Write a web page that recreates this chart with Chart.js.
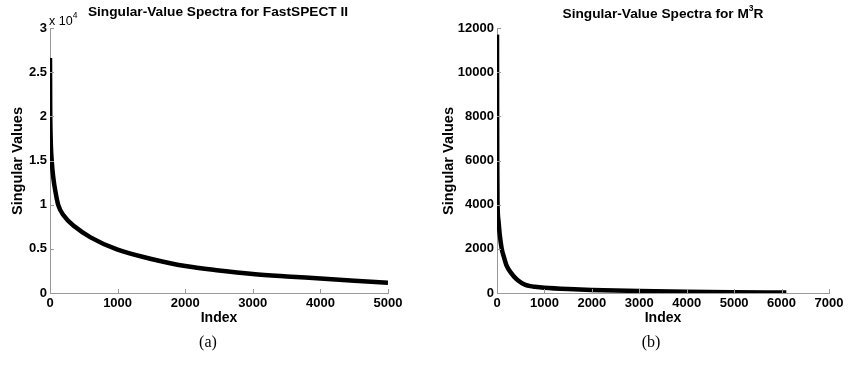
<!DOCTYPE html>
<html>
<head>
<meta charset="utf-8">
<script src="https://cdn.jsdelivr.net/npm/chart.js@4"></script>
<style>
  body { margin: 0; background: #fff; }
  #fig { position: relative; width: 849px; height: 367px; background: #fff; overflow: hidden; }
  canvas { position: absolute; top: 0; }
  .t { position: absolute; font-family: "Liberation Sans", Arial, sans-serif; color: #000; white-space: nowrap; }
  .b { font-weight: bold; }
  .cap { position: absolute; font-family: "Liberation Serif", serif; font-size: 16px; white-space: nowrap; }
</style>
</head>
<body>
<div id="fig">
  <canvas id="ca" width="424" height="367" style="left:0"></canvas>
  <canvas id="cb" width="425" height="367" style="left:424px"></canvas>

  <div class="t b" style="left:218px;top:4px;font-size:13.7px;transform:translateX(-50%)">Singular-Value Spectra for FastSPECT II</div>
  <div class="t" style="left:49px;top:12px;font-size:12.5px">x 10<sup style="font-size:8.5px;position:relative;top:-2px">4</sup></div>
  <div class="t b" style="left:17px;top:161px;font-size:14.5px;transform:translate(-50%,-50%) rotate(-90deg)">Singular Values</div>
  <div class="t b" style="left:219px;top:309px;font-size:14px;transform:translateX(-50%)">Index</div>
  <div class="cap" style="left:208px;top:333px;transform:translateX(-50%)">(a)</div>

  <div class="t b" style="left:663px;top:4px;font-size:13.7px;transform:translateX(-50%)">Singular-Value Spectra for M<sup style="font-size:8.5px;position:relative;top:-1px">3</sup>R</div>
  <div class="t b" style="left:448px;top:161px;font-size:14.5px;transform:translate(-50%,-50%) rotate(-90deg)">Singular Values</div>
  <div class="t b" style="left:663px;top:309px;font-size:14px;transform:translateX(-50%)">Index</div>
  <div class="cap" style="left:651px;top:333px;transform:translateX(-50%)">(b)</div>
</div>
<script>
// FastSPECT II spectrum (a)
const indexA = [0, 3, 10, 25, 50, 80, 120, 200, 370, 600, 1000, 1500, 2000, 2500, 3000, 3500, 4000, 4500, 5000];
const valuesA = [26600, 21000, 17500, 15000, 13000, 11500, 10000, 8800, 7500, 6300, 4900, 3850, 3050, 2550, 2150, 1880, 1650, 1400, 1150];

// M3R spectrum (b)
const indexB = [0, 2, 5, 10, 30, 60, 100, 150, 200, 300, 400, 500, 600, 700, 800, 1000, 1500, 2000, 3000, 4000, 5000, 6100];
const valuesB = [11700, 8500, 6000, 4200, 3300, 2600, 2000, 1600, 1250, 900, 650, 480, 370, 310, 280, 240, 180, 140, 90, 55, 35, 20];

const xTicksA = [0, 1000, 2000, 3000, 4000, 5000];
const yTicksA = [0, 5000, 10000, 15000, 20000, 25000, 30000];
const xTicksB = [0, 1000, 2000, 3000, 4000, 5000, 6000, 7000];
const yTicksB = [0, 2000, 4000, 6000, 8000, 10000, 12000];

const tickFont = { family: "Liberation Sans, Arial, sans-serif", size: 13, weight: 'bold' };

// MATLAB style ticks pointing into the plot
const inwardTicks = {
  id: 'inwardTicks',
  afterDraw(chart) {
    const ctx = chart.ctx, a = chart.chartArea;
    const xs = chart.scales.x, ys = chart.scales.y;
    ctx.save();
    ctx.strokeStyle = '#999';
    ctx.lineWidth = 1;
    ctx.beginPath();
    xs.ticks.forEach(t => {
      const px = Math.round(xs.getPixelForValue(t.value)) + 0.5;
      ctx.moveTo(px, a.bottom);
      ctx.lineTo(px, a.bottom - 4);
    });
    ys.ticks.forEach(t => {
      const py = Math.round(ys.getPixelForValue(t.value)) + 0.5;
      ctx.moveTo(a.left, py);
      ctx.lineTo(a.left + 4, py);
    });
    ctx.stroke();
    ctx.restore();
  }
};

function makeChart(id, xs, ys, xTicks, yTicks, yFmt, yWidth, padRight) {
  const pts = xs.map((x, i) => ({ x: x, y: ys[i] }));
  return new Chart(document.getElementById(id), {
    type: 'scatter',
    data: {
      datasets: [{
        data: pts,
        showLine: true,
        borderColor: '#000',
        borderWidth: 4.5,
        pointRadius: 0,
        cubicInterpolationMode: 'monotone',
        fill: false
      }]
    },
    options: {
      responsive: false,
      animation: false,
      layout: { padding: { left: 0, top: 28, right: padRight, bottom: 0 } },
      plugins: { legend: { display: false }, tooltip: { enabled: false } },
      scales: {
        x: {
          type: 'linear',
          min: xTicks[0],
          max: xTicks[xTicks.length - 1],
          afterBuildTicks: s => { s.ticks = xTicks.map(v => ({ value: v })); },
          afterFit: s => { s.height = 74; },
          grid: { display: false, drawTicks: false, tickLength: 0 },
          border: { display: true, color: '#999', width: 1 },
          ticks: { color: '#000', font: tickFont, padding: 3, maxRotation: 0, autoSkip: false, callback: v => String(v) }
        },
        y: {
          type: 'linear',
          min: yTicks[0],
          max: yTicks[yTicks.length - 1],
          afterBuildTicks: s => { s.ticks = yTicks.map(v => ({ value: v })); },
          afterFit: s => { s.width = yWidth; },
          grid: { display: false, drawTicks: false, tickLength: 0 },
          border: { display: true, color: '#999', width: 1 },
          ticks: { color: '#000', font: tickFont, padding: 3, autoSkip: false, callback: yFmt }
        }
      }
    },
    plugins: [inwardTicks]
  });
}

makeChart('ca', indexA, valuesA, xTicksA, yTicksA, v => String(v / 10000), 50, 36);
makeChart('cb', indexB, valuesB, xTicksB, yTicksB, v => String(v), 73, 20);
</script>
</body>
</html>
